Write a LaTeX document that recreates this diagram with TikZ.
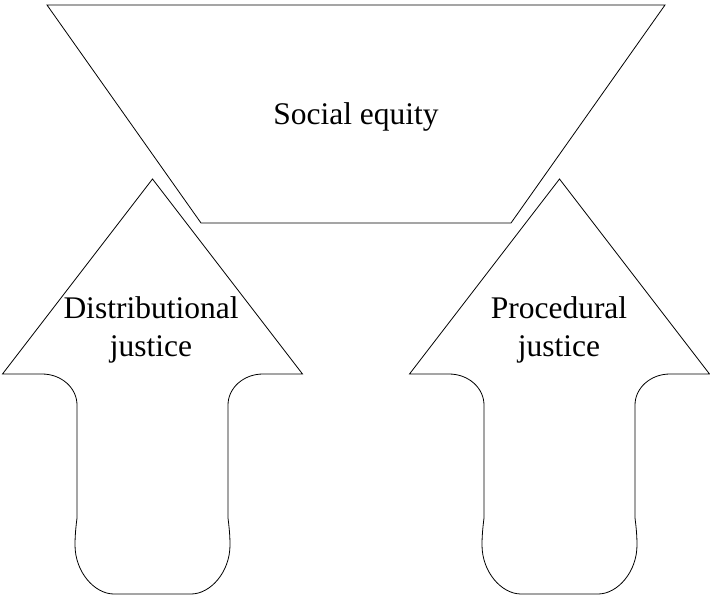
\documentclass[tikz,border=0pt]{standalone}
\usepackage{fontspec}
\setmainfont{Liberation Serif}
\begin{document}
\begin{tikzpicture}[x=1pt,y=-1pt,
  shapeline/.style={draw=black,line width=0.8pt,line join=miter},
  lbl/.style={align=center,font=\fontsize{31.5}{38}\selectfont,inner sep=0pt},
  pics/uparrow/.style={code={
    \draw[shapeline] (0,179) -- (150,374) -- (110.5,374)
      .. controls (91,374) and (75.5,388) .. (75.5,405)
      -- (75.5,518) .. controls (76.5,526) and (77.5,535) .. (77.5,545)
      .. controls (77.5,572) and (58,594) .. (38.5,594)
      -- (-38.5,594) .. controls (-58,594) and (-77.5,572) .. (-77.5,545)
      .. controls (-77.5,535) and (-76.5,526) .. (-75.5,518)
      -- (-75.5,405) .. controls (-75.5,388) and (-91,374) .. (-110.5,374)
      -- (-150,374) -- cycle;
  }}]
\useasboundingbox (0,0) rectangle (710,597);
\draw[shapeline] (47,5) -- (665,5) -- (511,223) -- (201,223) -- cycle;
\node[lbl] (social) at (356,117) {Social equity};
\pic at (152.5,0) {uparrow};
\pic at (559.5,0) {uparrow};
\node[lbl] (dist) at (151,330) {Distributional\\justice};
\node[lbl] (proc) at (559,330) {Procedural\\justice};
\end{tikzpicture}
\end{document}
